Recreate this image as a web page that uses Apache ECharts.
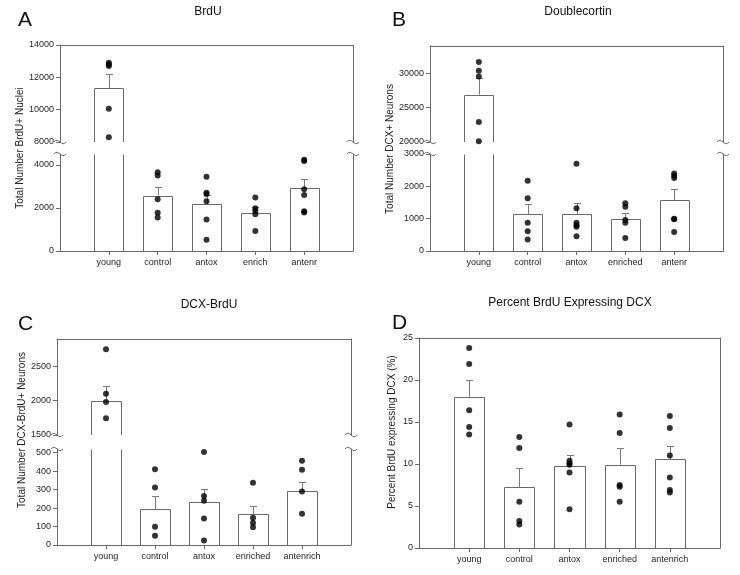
<!DOCTYPE html>
<html><head><meta charset="utf-8">
<script src="https://cdn.jsdelivr.net/npm/echarts@6/dist/echarts.min.js"></script>
<style>html,body{margin:0;padding:0;background:#fff}#c{width:740px;height:575px}</style>
</head><body><div id="c"></div>
<script>
// ---------- DATA ----------
const catsA = ['young','control','antox','enrich','antenr'];
const catsB = ['young','control','antox','enriched','antenr'];
const catsC = ['young','control','antox','enriched','antenrich'];
const catsD = ['young','control','antox','enriched','antenrich'];

const meanA = [11330, 2570, 2180, 1750, 2910];
const semA  = [900, 410, 430, 275, 450];
const ptsA  = [[12900,12800,12700,10050,8300],[3650,3500,2400,1770,1550],[3450,2700,2650,2310,1460,520],[2480,1980,1850,1700,930],[4230,4180,2870,2600,1840,1790]];

const meanB = [26900, 1130, 1140, 1000, 1580];
const semB  = [2450, 320, 330, 190, 330];
const ptsB  = [[31650,30400,29550,22900,20100],[2170,1630,870,610,355],[2700,1320,870,800,750,460],[1475,1370,955,870,405],[2400,2330,2260,1000,980,590]];

const meanC = [2000, 195, 235, 167, 295];
const semC  = [220, 70, 69, 43, 47];
const ptsC  = [[2750,2100,1980,1745],[410,312,99,50],[504,265,240,144,25],[337,148,120,96],[456,407,290,169]];

const meanD = [18.0, 7.26, 9.8, 9.92, 10.6];
const semD  = [2.0, 2.22, 1.3, 1.95, 1.6];
const ptsD  = [[23.8,21.9,16.4,14.4,13.5],[13.2,11.9,5.5,3.2,2.8],[14.7,10.4,10.1,9.9,9.0,4.6],[15.9,13.7,7.5,7.3,5.5],[15.7,14.3,11.0,8.4,6.9,6.6]];

// axis segments (value ranges) and tick labels
const rangesA = [[8000,14000],[0,4500]];
const ticksA  = [[8000,10000,12000,14000],[0,2000,4000]];
const rangesB = [[20000,34000],[0,3000]];
const ticksB  = [[20000,25000,30000],[0,1000,2000,3000]];
const rangesC = [[1500,2900],[0,520]];
const ticksC  = [[1500,2000,2500],[0,100,200,300,400,500]];
const rangesD = [[0,25]];
const ticksD  = [[0,5,10,15,20,25]];

const titles  = ['BrdU','Doublecortin','DCX-BrdU','Percent BrdU Expressing DCX'];
const letters = ['A','B','C','D'];
const yNames  = ['Total Number BrdU+ Nuclei','Total Number DCX+ Neurons','Total Number DCX-BrdU+ Neurons','Percent BrdU expressing DCX (%)'];

// ---------- LAYOUT ----------
const layouts = [
  {left:60, width:293, segs:[{top:45,height:97},{top:154,height:97}], title:[208,12], letter:[18,20], yName:[20,148]},
  {left:430, width:293, segs:[{top:46,height:96},{top:154,height:97}], title:[578,12], letter:[392,20], yName:[390,149]},
  {left:57, width:294, segs:[{top:339,height:96},{top:449,height:96}], title:[209,305], letter:[18,324], yName:[22,430]},
  {left:419, width:301, segs:[{top:338,height:210}], title:[570,303], letter:[392,323], yName:[392,432]}
];

const panels = [
  {cats:catsA, mean:meanA, sem:semA, pts:ptsA, ranges:rangesA, ticks:ticksA},
  {cats:catsB, mean:meanB, sem:semB, pts:ptsB, ranges:rangesB, ticks:ticksB},
  {cats:catsC, mean:meanC, sem:semC, pts:ptsC, ranges:rangesC, ticks:ticksC},
  {cats:catsD, mean:meanD, sem:semD, pts:ptsD, ranges:rangesD, ticks:ticksD}
];

const LINE = '#6a6a6a';
const TXT = '#1e1e1e';
const FONT = 'Liberation Sans, Arial, sans-serif';

const option = {animation:false, backgroundColor:'#fff', grid:[], xAxis:[], yAxis:[], series:[], graphic:[]};

function barRender(mn, mx) {
  return function (params, api) {
    const idx = api.value(0), v = api.value(1);
    if (v <= mn) return null;
    const c0 = api.coord([idx, mn]);
    const unit = Math.abs(api.coord([idx + 1, mn])[0] - c0[0]);
    const w = unit * 0.6;
    const xl = Math.round(c0[0] - w / 2) + 0.5, xr = Math.round(c0[0] + w / 2) + 0.5;
    const yBase = c0[1];
    const yTop = Math.round(api.coord([idx, Math.min(v, mx)])[1]) + 0.5;
    const st = {stroke: LINE, lineWidth: 1, fill: null};
    if (v > mx) {
      return {type:'group', children:[
        {type:'line', shape:{x1:xl,y1:yBase,x2:xl,y2:yTop}, style:st},
        {type:'line', shape:{x1:xr,y1:yBase,x2:xr,y2:yTop}, style:st}
      ]};
    }
    return {type:'polyline', shape:{points:[[xl,yBase],[xl,yTop],[xr,yTop],[xr,yBase]]}, style:st};
  };
}
function errRender(mn, mx) {
  return function (params, api) {
    const idx = api.value(0), v = api.value(1), e = api.value(2);
    if (v < mn || v > mx) return null;
    const p0 = api.coord([idx, v]);
    const p1 = api.coord([idx, Math.min(v + e, mx)]);
    const x = Math.round(p0[0]) + 0.5, y1 = Math.round(p1[1]) + 0.5;
    const st = {stroke: '#7a7a7a', lineWidth: 1};
    return {type:'group', children:[
      {type:'line', shape:{x1:x,y1:p0[1],x2:x,y2:y1}, style:st},
      {type:'line', shape:{x1:x-3.5,y1:y1,x2:x+3.5,y2:y1}, style:st}
    ]};
  };
}

panels.forEach((p, pi) => {
  const L = layouts[pi];
  const xData = [''].concat(p.cats).concat(['']);
  const nSeg = p.ranges.length;
  p.ranges.forEach((rg, si) => {
    const seg = L.segs[si];
    const isTop = si === 0, isBottom = si === nSeg - 1;
    const gi = option.grid.length;
    option.grid.push({left:L.left, width:L.width, top:seg.top, height:seg.height});
    const xi = option.xAxis.length;
    option.xAxis.push({
      type:'category', gridIndex:gi, data:xData, boundaryGap:false, position:'bottom', show:isBottom,
      axisLine:{show:true, onZero:false, lineStyle:{color:LINE, width:1}},
      axisTick:{show:true, length:4, interval:(i, v) => v !== '', lineStyle:{color:LINE}},
      axisLabel:{show:true, interval:(i, v) => v !== '', margin:7, fontSize:9, color:TXT, fontFamily:FONT},
      splitLine:{show:false}
    });
    if (isTop) {
      option.xAxis.push({
        type:'category', gridIndex:gi, data:xData, boundaryGap:false, position:'top',
        axisLine:{show:true, onZero:false, lineStyle:{color:LINE, width:1}}, axisTick:{show:false}, axisLabel:{show:false}, splitLine:{show:false}
      });
    }
    const yi = option.yAxis.length;
    option.yAxis.push({
      type:'value', gridIndex:gi, min:rg[0], max:rg[1], position:'left',
      axisLine:{show:true, onZero:false, lineStyle:{color:LINE, width:1}},
      axisTick:{show:true, length:4, customValues:p.ticks[si], lineStyle:{color:LINE}},
      axisLabel:{show:true, customValues:p.ticks[si], formatter:(v) => String(v), margin:6, fontSize:9, color:TXT, fontFamily:FONT},
      splitLine:{show:false}
    });
    option.yAxis.push({
      type:'value', gridIndex:gi, min:rg[0], max:rg[1], position:'right',
      axisLine:{show:true, onZero:false, lineStyle:{color:LINE, width:1}}, axisTick:{show:false}, axisLabel:{show:false}, splitLine:{show:false}
    });
    const barData = p.mean.map((m, i) => [i + 1, m, p.sem[i]]);
    option.series.push({type:'custom', xAxisIndex:xi, yAxisIndex:yi, data:barData, renderItem:barRender(rg[0], rg[1]), z:2, clip:false, encode:{x:0, y:1}});
    option.series.push({type:'custom', xAxisIndex:xi, yAxisIndex:yi, data:barData, renderItem:errRender(rg[0], rg[1]), z:3, clip:false, encode:{x:0, y:1}});
    const dots = [];
    p.pts.forEach((arr, i) => arr.forEach(v => { if (v >= rg[0] && v <= rg[1]) dots.push([i + 1, v]); }));
    option.series.push({type:'scatter', xAxisIndex:xi, yAxisIndex:yi, data:dots, symbol:'circle', symbolSize:6, itemStyle:{color:'#000'}, z:4, clip:false});
    // break marks
    if (nSeg > 1) {
      const yb = isTop ? seg.top + seg.height : seg.top;
      [L.left, L.left + L.width].forEach(x => {
        option.graphic.push({type:'bezierCurve', silent:true,
          shape:{x1:x-6, y1:yb, cpx1:x-1.5, cpy1:yb-6, cpx2:x+1.5, cpy2:yb+6, x2:x+6, y2:yb},
          style:{stroke:LINE, lineWidth:1, fill:null}, z:10});
      });
    }
  });
  option.graphic.push({type:'text', x:L.title[0], y:L.title[1], silent:true,
    style:{text:titles[pi], align:'center', verticalAlign:'middle', fontSize:12, fontFamily:FONT, fill:'#111'}});
  option.graphic.push({type:'text', x:L.letter[0], y:L.letter[1], silent:true,
    style:{text:letters[pi], align:'left', verticalAlign:'middle', fontSize:21, fontFamily:FONT, fill:'#111'}});
  option.graphic.push({type:'text', x:L.yName[0], y:L.yName[1], rotation:Math.PI/2, silent:true,
    style:{text:yNames[pi], align:'center', verticalAlign:'middle', fontSize:10, fontFamily:FONT, fill:TXT}});
});

const chart = echarts.init(document.getElementById('c'), null, {renderer:'canvas'});
chart.setOption(option);
</script>
</body></html>
